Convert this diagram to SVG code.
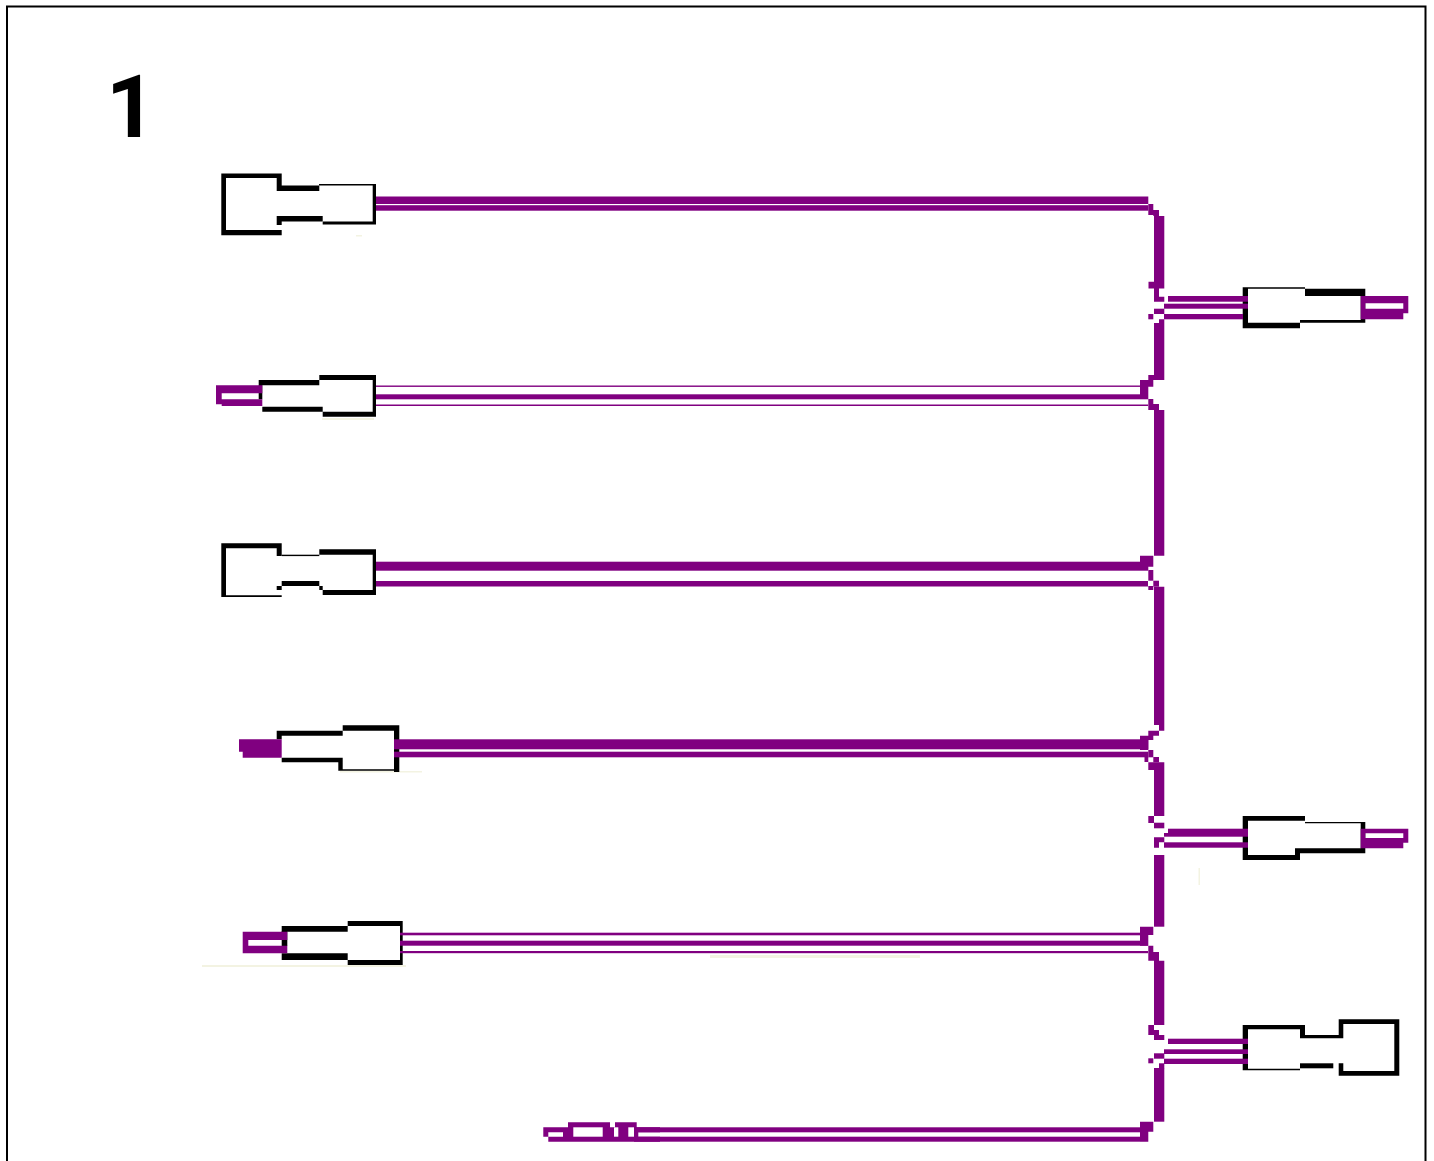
<svg xmlns="http://www.w3.org/2000/svg" width="1434" height="1161" viewBox="0 0 1434 1161">
<style>
.k{fill:#000}
.p{fill:#800080}
.f{fill:#f3f3e2}
.t{font-family:Roboto,"Liberation Sans",Arial,sans-serif;font-weight:700;font-size:87px;fill:#000}
</style>
<rect width="1434" height="1161" fill="#fff"/>
<path d="M7 1161V6.5H1425.5V1161" fill="none" stroke="#000" stroke-width="2"/>
<text class="t" x="106" y="137">1</text>
<g id="faint-marks">
<rect class="f" x="322" y="418" width="52" height="2"/>
<rect class="f" x="356" y="235" width="6" height="1.5"/>
<rect class="f" x="340" y="771" width="82" height="1.5"/>
<rect class="f" x="202" y="965" width="204" height="2"/>
<rect class="f" x="710" y="955" width="210" height="3"/>
<rect class="f" x="1198.5" y="868" width="1.5" height="17"/>
</g>
<g id="connector-a">
<path class="k" d="M221.3 173.5H281.7V185.5H319.3V191H276.7V178H226V230H281.7V235.3H221.3Z"/>
<path class="k" d="M319 184H376V224.5H322.7V221.5H372.7V185.5H319Z"/>
<path class="k" d="M276.7 216H322.7V221.5H281.7V225H276.7Z"/>
</g>
<g id="connector-b">
<path class="k" d="M258.7 380H319.3V375H376V416.7H322.7V406.7H262.3V411.7H322.7V411.7H372.7V380H319.3V385.3H258.7Z"/>
<rect class="k" x="258.7" y="385" width="3.6" height="14.3"/>
<path class="p" d="M216 385.3H262.3V393.3H221.7V399.3H262.3V406H221.7V404.3H216Z"/>
</g>
<g id="connector-c">
<path class="k" d="M221.3 543.3H281.7V556H276.7V548.3H226V595.3H281.7V597H221.3Z"/>
<rect class="k" x="281.7" y="554.7" width="37.6" height="1.4"/>
<path class="k" d="M319.3 549.3H376V595H322.7V590H372.7V554.7H319.3Z"/>
<path class="k" d="M281.7 581H319.3V586H322.7V590H319.3V586H281.7Z"/>
<rect class="k" x="276.7" y="586" width="5" height="4"/>
</g>
<g id="connector-d">
<path class="k" d="M276.7 730.7H342.7V725.3H399.3V772H394V770.7H338.3V762.3H281.7V757.7H342.7V769.3H394V730.7H342.7V735.7H281.7V739.3H276.7Z"/>
<path class="p" d="M239 739.3H281.7V757.7H242.7V751.7H239Z"/>
</g>
<g id="connector-e">
<path class="k" d="M281.7 926H347.7V921H402.7V965H347.7V960H281.7V953.3H347.7V960H400V926H347.7V931.7H281.7Z"/>
<rect class="k" x="281.7" y="931" width="5.6" height="15"/>
<path class="p" d="M242.7 931.7H287.3V940H248.3V945.7H287.3V953.3H242.7Z"/>
</g>
<g id="connector-f">
<path class="p" d="M543.3 1127.3H568V1122.3H610V1127.3H615V1122.3H636.7V1127.3H660V1132.3H638.3V1136.7H660V1141.7H548.3V1136.7H563V1132.3H548.3V1136.7H543.3Z"/>
<rect x="573.3" y="1127.3" width="29.4" height="9.4" fill="#fff"/>
<rect x="614" y="1127.3" width="4.3" height="9.4" fill="#fff"/>
<rect x="628.3" y="1127.3" width="5.7" height="9.4" fill="#fff"/>
</g>
<g id="connector-g">
<path class="k" d="M1242.7 287.3H1305V288.7H1365.3V322.7H1300V328.3H1242.7ZM1248 288.7V322.7H1300V320H1360.7V296H1305V288.7Z" fill-rule="evenodd"/>
<path class="p" d="M1360.7 296H1408.3V313.3H1403.3V303.3H1365.3V308.7H1403.3V319.3H1360.7V308.7H1360.7V303.3H1360.7Z"/>
</g>
<g id="connector-h">
<path class="k" d="M1242.7 816H1305V820.7H1248V855H1295V848.3H1360.7V823.3H1305V820.7L1305 822H1365.3V853.3H1300V860H1242.7Z"/>
<path class="p" d="M1360.7 828.7H1408.3V842.7H1403.3V833.3H1365.3V838H1403.3V848.3H1360.7Z"/>
</g>
<g id="connector-i">
<path class="k" d="M1242.7 1025H1305V1035H1338.7V1019.3H1399.3V1075.7H1338.7V1063.3H1343.3V1071H1394.3V1024H1343.3V1038.3H1300V1029.3H1248V1068.7H1300V1070.3H1242.7Z"/>
<rect class="k" x="1300" y="1063.3" width="33.3" height="5"/>
</g>
<g id="connectors" class="p">
<rect x="376" y="196.5" width="772.3" height="7.5"/>
<rect x="376" y="205.2" width="772.3" height="5.5"/>
<path d="M1148.3 204H1153.3V210H1159V216H1164.3V288.6H1159V296.7H1164.3V301.7H1154V288.6H1148.5V281.7H1154V216H1153.3V215H1148.3Z"/>
<rect x="1168" y="296" width="80" height="5.7"/>
<rect x="1164" y="303.7" width="84" height="5"/>
<rect x="1164" y="314" width="79" height="5.3"/>
<rect x="1154" y="308.7" width="10.3" height="5.3"/>
<rect x="1148.3" y="314" width="5" height="5.3"/>
<path d="M1159 319.3H1164.3V323H1164.3V375H1164.3V380H1153.3V386.7H1148.3V399H1140V380H1148.3V375H1154V323H1159Z"/>
<rect x="376" y="385.5" width="772" height="1.4"/>
<rect x="376" y="394.3" width="772" height="5"/>
<rect x="376" y="404.5" width="772" height="1.5"/>
<path d="M1148.3 399H1153.3V404H1159V410H1164.3V555.7H1153.3V566.7H1148.3V570H1140V555.7H1148V555.7H1154V410H1148.3Z"/>
<rect x="376" y="561.7" width="772" height="9"/>
<rect x="376" y="581" width="772" height="5.5"/>
<rect x="1148.3" y="570" width="5" height="10.7"/>
<rect x="1148.3" y="586" width="5" height="4"/>
<rect x="1153.3" y="580.7" width="5.7" height="6"/>
<path d="M1154 586.7H1164.3V730.7H1159V725H1154Z"/>
<path d="M1148.3 730.7H1159V735.7H1153.3V740H1148.3V750H1140V735.7H1148.3Z"/>
<rect x="394" y="739.3" width="754.3" height="10"/>
<rect x="394" y="751.7" width="754.3" height="5.6"/>
<rect x="1148.3" y="750" width="5" height="7.3"/>
<rect x="1144.5" y="757" width="3.8" height="5"/>
<rect x="1153.3" y="757" width="5.7" height="5.3"/>
<path d="M1148.3 762.3H1164.3V816H1154V770H1148.3Z"/>
<rect x="1148.3" y="816" width="5.7" height="7"/>
<rect x="1154" y="822.7" width="10.3" height="5.6"/>
<rect x="1168" y="828.7" width="80" height="8"/>
<rect x="1164" y="833" width="4" height="3.7"/>
<rect x="1164" y="842.3" width="84" height="5.4"/>
<path d="M1154 837.3H1164.3V842.3H1159V847.7H1154Z"/>
<rect x="1154" y="855" width="10.3" height="71.7"/>
<path d="M1140 926.7H1153.3V935H1148.3V945.7H1140Z"/>
<rect x="400" y="932.7" width="748" height="2.6"/>
<rect x="400" y="940.7" width="748" height="5"/>
<rect x="400" y="951" width="748" height="2.2"/>
<path d="M1148.3 945.7H1153.3V952H1159V960.7H1164.3V1025H1154V960.7H1148.3Z"/>
<path d="M1148.3 1025H1154V1030H1159V1035H1164.3V1040H1154V1035H1148.3Z"/>
<rect x="1168" y="1038.7" width="80" height="5.3"/>
<rect x="1164" y="1049.3" width="84" height="4.7"/>
<rect x="1164" y="1058.7" width="84" height="5.3"/>
<rect x="1154" y="1053.3" width="10.3" height="5.4"/>
<rect x="1148.3" y="1058.3" width="5" height="5"/>
<rect x="1159" y="1063.3" width="5.3" height="5"/>
<rect x="1154" y="1068" width="10.3" height="53.7"/>
<path d="M1140 1121.7H1153.3V1131.7H1148.3V1141.7H1140Z"/>
<rect x="634" y="1127.3" width="506" height="5"/>
<rect x="634" y="1136.7" width="506" height="5"/>
</g>
</svg>
